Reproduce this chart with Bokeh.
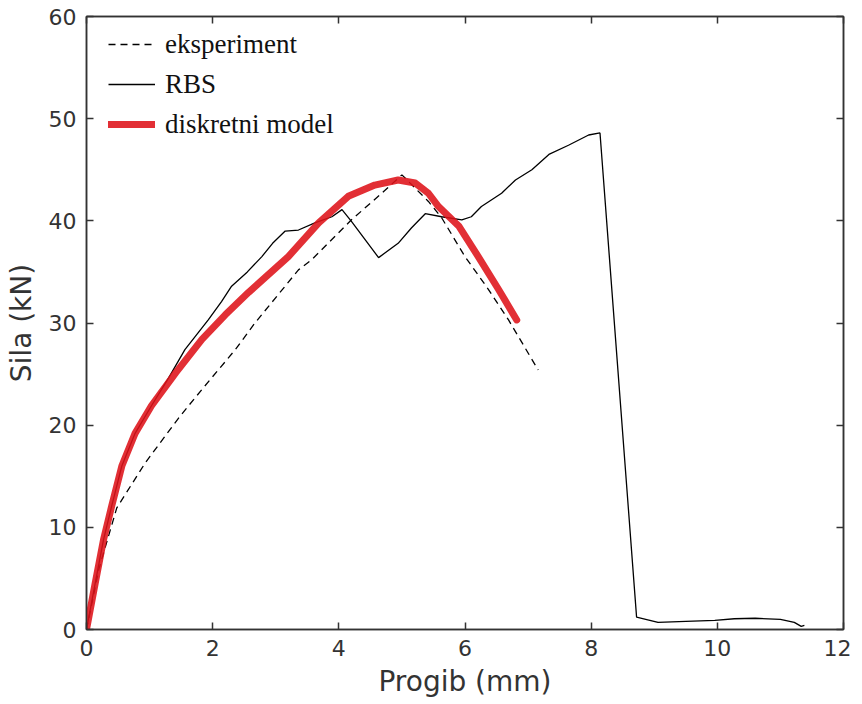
from bokeh.plotting import figure
from bokeh.models import Legend, LegendItem, LinearAxis, FixedTicker, Range1d
from bokeh.embed import file_html
from bokeh.resources import INLINE

# ---- data ----
exp_x = [0.0, 0.2, 0.48, 0.93, 1.46, 1.83, 2.36, 2.67, 3.36, 3.57, 3.99, 4.2, 4.68, 5.0,
         5.42, 5.63, 6.0, 6.37, 6.69, 7.16]
exp_y = [0.0, 6.0, 11.9, 16.3, 20.7, 23.5, 27.4, 30.0, 35.2, 36.2, 38.8, 40.1, 42.7, 44.5,
         41.9, 40.3, 36.5, 33.3, 30.3, 25.4]

rbs_x = [0, 0.14, 0.27, 0.40, 0.56, 0.77, 1.03, 1.3, 1.56, 1.93, 2.14, 2.30, 2.55, 2.78, 2.95,
         3.15, 3.36, 3.62, 3.89, 4.05, 4.2, 4.63, 4.94, 5.15, 5.37, 5.63, 5.95, 6.1, 6.26, 6.58,
         6.8, 7.06, 7.33, 7.64, 7.96, 8.14, 8.72, 9.06, 9.5, 9.96, 10.27, 10.6, 11.0, 11.22,
         11.33, 11.38]
rbs_y = [0, 4.6, 8.8, 12.1, 16.0, 19.2, 21.9, 24.6, 27.4, 30.3, 32.1, 33.6, 35.0, 36.5, 37.8,
         39.0, 39.1, 39.8, 40.4, 41.1, 39.95, 36.4, 37.8, 39.3, 40.7, 40.4, 40.1, 40.4, 41.4, 42.7,
         44.0, 45.0, 46.5, 47.4, 48.4, 48.6, 1.2, 0.7, 0.8, 0.9, 1.05, 1.1, 1.0, 0.7,
         0.3, 0.4]

model_x = [0, 0.14, 0.27, 0.40, 0.56, 0.77, 1.03, 1.41, 1.83, 2.2, 2.57, 3.2, 3.68, 4.15,
           4.57, 4.94, 5.21, 5.42, 5.58, 5.9, 6.21, 6.53, 6.82]
model_y = [0, 4.6, 8.8, 12.1, 16.0, 19.2, 21.9, 25.1, 28.4, 30.8, 33.0, 36.5, 39.8, 42.4,
           43.5, 44.0, 43.7, 42.7, 41.4, 39.5, 36.5, 33.3, 30.3]

labels = ["eksperiment", "RBS", "diskretni model"]
x_ticks = [0, 2, 4, 6, 8, 10, 12]
y_ticks = [0, 10, 20, 30, 40, 50, 60]

TXT = "#333333"

p = figure(frame_width=757, frame_height=613, output_backend="svg", toolbar_location=None,
           x_range=Range1d(0, 12), y_range=Range1d(0, 60),
           min_border_left=86, min_border_right=8, min_border_top=16, min_border_bottom=62,
           background_fill_color="white", border_fill_color="white")
p.grid.visible = False
p.outline_line_color = TXT
p.outline_line_width = 1.5

r_exp = p.line(exp_x, exp_y, line_color="black", line_width=1.3, line_dash="7 5")
r_rbs = p.line(rbs_x, rbs_y, line_color="black", line_width=1.3)
r_mod = p.line(model_x, model_y, line_color="#de1219", line_width=7, line_alpha=0.88,
               line_join="round", line_cap="round")

xa = p.xaxis[0]
ya = p.yaxis[0]
xa.ticker = FixedTicker(ticks=x_ticks)
ya.ticker = FixedTicker(ticks=y_ticks)
for ax in (xa, ya):
    ax.major_tick_in = 7
    ax.major_tick_out = 0
    ax.minor_tick_line_color = None
    ax.major_tick_line_color = TXT
    ax.major_tick_line_width = 1.5
    ax.axis_line_color = TXT
    ax.axis_line_width = 1.5
    ax.major_label_text_font = "DejaVu Sans"
    ax.major_label_text_font_size = "22px"
    ax.major_label_text_color = TXT
    ax.major_label_standoff = 10
    ax.axis_label_text_font = "DejaVu Sans"
    ax.axis_label_text_font_size = "28px"
    ax.axis_label_text_font_style = "normal"
    ax.axis_label_text_color = TXT
xa.axis_label = "Progib (mm)"
ya.axis_label = "Sila (kN)"
xa.axis_label_standoff = 6
ya.axis_label_standoff = 8

for loc, ticks in (("above", x_ticks), ("right", y_ticks)):
    ax = LinearAxis(ticker=FixedTicker(ticks=ticks))
    ax.major_tick_in = 7
    ax.major_tick_out = 0
    ax.minor_tick_line_color = None
    ax.major_tick_line_color = TXT
    ax.major_tick_line_width = 1.5
    ax.axis_line_color = TXT
    ax.axis_line_width = 1.5
    ax.major_label_text_font_size = "1px"
    ax.major_label_text_color = None
    ax.major_label_standoff = 0
    p.add_layout(ax, loc)

legend = Legend(items=[LegendItem(label=labels[0], renderers=[r_exp]),
                       LegendItem(label=labels[1], renderers=[r_rbs]),
                       LegendItem(label=labels[2], renderers=[r_mod])],
                location=(22, 485))
legend.label_text_font = "Liberation Serif"
legend.label_text_font_size = "27px"
legend.label_text_color = "#111111"
legend.label_height = 40
legend.glyph_height = 40
legend.glyph_width = 47
legend.label_standoff = 10
legend.spacing = 0
legend.padding = 0
legend.margin = 0
legend.background_fill_alpha = 0
legend.border_line_alpha = 0
p.add_layout(legend, "center")

open("out.html", "w").write(file_html(p, INLINE))
